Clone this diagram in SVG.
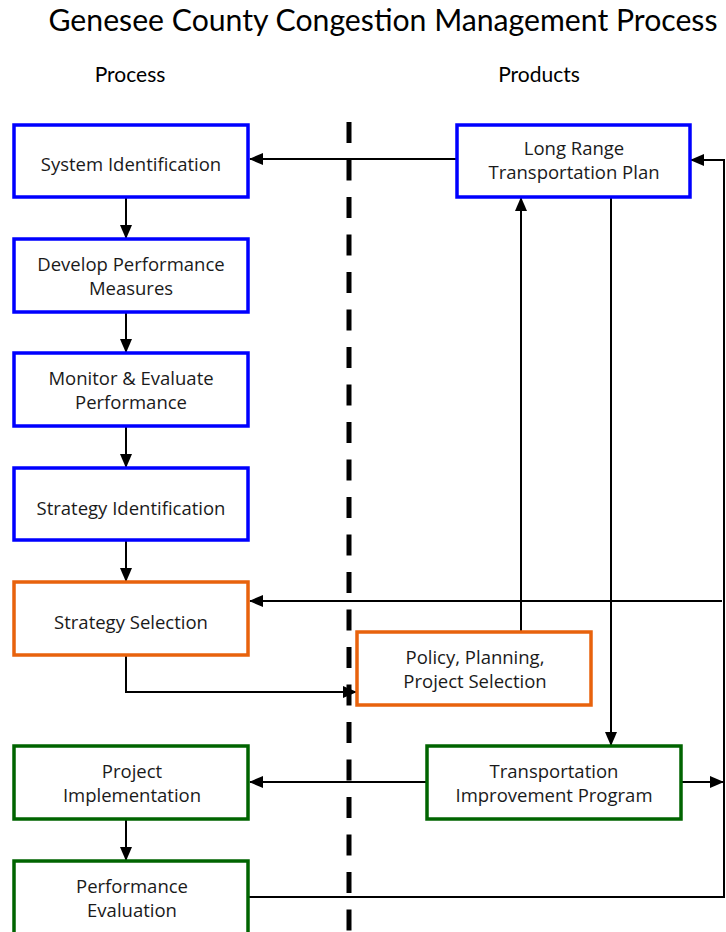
<svg xmlns="http://www.w3.org/2000/svg" width="726" height="932" viewBox="0 0 726 932">
<defs>
<marker id="ah" markerWidth="14" markerHeight="12" refX="13" refY="6" orient="auto" markerUnits="userSpaceOnUse">
<path d="M0,0 L14,6 L0,12 Z" fill="#000"/>
</marker>
<style>
.t{font-family:"Open Sans","Liberation Sans",sans-serif;font-size:18.5px;fill:#1a1a1a;text-anchor:middle}
.h{font-family:Lato,"Liberation Sans",sans-serif;fill:#000}
.blue{fill:#fff;stroke:#0000ff;stroke-width:3.5}
.orange{fill:#fff;stroke:#e8620c;stroke-width:3.5}
.green{fill:#fff;stroke:#006400;stroke-width:3.5}
.c{fill:none;stroke:#000;stroke-width:2}
.ca{fill:none;stroke:#000;stroke-width:2;marker-end:url(#ah)}
</style>
</defs>
<rect width="726" height="932" fill="#fff"/>
<text class="h" x="383" y="31" font-size="30.2" text-anchor="middle">Genesee County Congestion Management Process</text>
<text class="h" x="130" y="82" font-size="21" text-anchor="middle">Process</text>
<text class="h" x="539" y="82" font-size="21" text-anchor="middle">Products</text>
<line x1="349" y1="122" x2="349" y2="932" stroke="#000" stroke-width="5" stroke-dasharray="21 16.5"/>
<g id="connectors">
<line class="ca" x1="457" y1="159" x2="250" y2="159"/>
<line class="ca" x1="126" y1="197" x2="126" y2="238"/>
<line class="ca" x1="126" y1="312" x2="126" y2="352"/>
<line class="ca" x1="126" y1="426" x2="126" y2="467"/>
<line class="ca" x1="126" y1="540" x2="126" y2="581"/>
<polyline class="ca" points="126,655 126,692 356,692"/>
<line class="ca" x1="521" y1="632" x2="521" y2="198"/>
<line class="ca" x1="611" y1="197" x2="611" y2="745"/>
<line class="ca" x1="427" y1="782" x2="250" y2="782"/>
<line class="ca" x1="681" y1="782" x2="723" y2="782"/>
<line class="ca" x1="722" y1="601" x2="250" y2="601"/>
<polyline class="ca" points="248,897 724,897 724,160 691,160"/>
<line class="ca" x1="126" y1="819" x2="126" y2="860"/>
</g>
<g id="n1"><rect class="blue" x="14" y="125" width="234" height="72"/><text class="t" x="131" y="171">System Identification</text></g>
<g id="n2"><rect class="blue" x="14" y="239" width="234" height="73"/><text class="t" x="131" y="271">Develop Performance</text><text class="t" x="131" y="295">Measures</text></g>
<g id="n3"><rect class="blue" x="14" y="353" width="234" height="73"/><text class="t" x="131" y="385">Monitor &amp; Evaluate</text><text class="t" x="131" y="409">Performance</text></g>
<g id="n4"><rect class="blue" x="14" y="468" width="234" height="72"/><text class="t" x="131" y="515">Strategy Identification</text></g>
<g id="n5"><rect class="orange" x="14" y="582" width="234" height="73"/><text class="t" x="131" y="629">Strategy Selection</text></g>
<g id="n6"><rect class="green" x="14" y="746" width="234" height="73"/><text class="t" x="132" y="778">Project</text><text class="t" x="132" y="802">Implementation</text></g>
<g id="n7"><rect class="green" x="14" y="861" width="234" height="90"/><text class="t" x="132" y="893">Performance</text><text class="t" x="132" y="917">Evaluation</text></g>
<g id="n8"><rect class="blue" x="457" y="125" width="233" height="72"/><text class="t" x="574" y="155">Long Range</text><text class="t" x="574" y="179">Transportation Plan</text></g>
<g id="n9"><rect class="orange" x="357" y="632" width="234" height="73"/><text class="t" x="475" y="664">Policy, Planning,</text><text class="t" x="475" y="688">Project Selection</text></g>
<g id="n10"><rect class="green" x="427" y="746" width="254" height="73"/><text class="t" x="554" y="778">Transportation</text><text class="t" x="554" y="802">Improvement Program</text></g>
</svg>
